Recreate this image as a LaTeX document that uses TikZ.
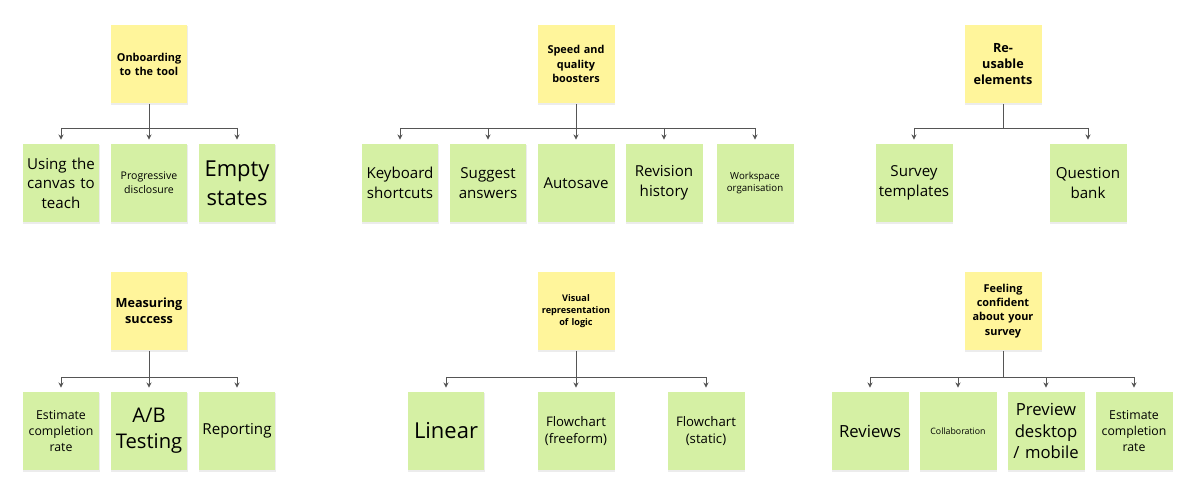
\documentclass[tikz,border=0pt]{standalone}
\usepackage{fontspec}
\setmainfont{Open Sans}
\usetikzlibrary{arrows.meta,shadows}
\definecolor{yel}{HTML}{FFF59B}
\definecolor{grn}{HTML}{D5F0A4}
\definecolor{ln}{HTML}{555555}
\newcommand{\fs}[1]{\fontsize{#1}{\dimexpr #1pt*13/10\relax}\selectfont\hyphenpenalty=10000 }
\tikzset{
 x=0.02cm,y=-0.02cm,
 note/.style={minimum width=1.54cm,minimum height=1.58cm,inner sep=1pt,text width=1.45cm,align=center,
   drop shadow={shadow xshift=0.3pt,shadow yshift=-1pt,opacity=0.15}},
 hd/.style={note,fill=yel,font=\bfseries\fs{6.2}},
 gn/.style={note,fill=grn},
 con/.style={draw=ln,line width=0.5pt},
 arr/.style={con,-{Stealth[length=3pt,width=3pt]}}
}
\begin{document}
\begin{tikzpicture}
\useasboundingbox (0,0) rectangle (1200,503);
\node[hd] (h1) at (149,64) {Onboarding\\to the tool};
\node[gn,font=\fs{8.6}] (a1) at (61,183) {Using the\\canvas to\\teach};
\node[gn,font=\fs{6}] (a2) at (149,183) {Progressive\\disclosure};
\node[gn,font=\fs{12.5}] (a3) at (237,183) {Empty\\states};
\node[hd] (h2) at (576,64) {Speed and\\quality\\boosters};
\node[gn,font=\fs{8.6}] (b1) at (400,183) {Keyboard\\shortcuts};
\node[gn,font=\fs{8.6}] (b2) at (488,183) {Suggest\\answers};
\node[gn,font=\fs{8.6}] (b3) at (576,183) {Autosave};
\node[gn,font=\fs{8.6}] (b4) at (664,183) {Revision\\history};
\node[gn,font=\fs{5.5}] (b5) at (755,183) {Workspace\\organisation};
\node[hd,font=\bfseries\fs{7.2}] (h3) at (1003,64) {Re-\\usable\\elements};
\node[gn,font=\fs{8.6}] (c1) at (914,183) {Survey\\templates};
\node[gn,font=\fs{8.6}] (c2) at (1088,183) {Question\\bank};
\node[hd,font=\bfseries\fs{7.2}] (h4) at (149,311) {Measuring\\success};
\node[gn,font=\fs{7}] (d1) at (61,431) {Estimate\\completion\\rate};
\node[gn,font=\fs{11.5}] (d2) at (149,431) {A/B\\Testing};
\node[gn,font=\fs{8.6}] (d3) at (237,431) {Reporting};
\node[hd,font=\bfseries\fs{5.2}] (h5) at (576,311) {Visual\\representation\\of logic};
\node[gn,font=\fs{12.5}] (e1) at (446,431) {Linear};
\node[gn,font=\fs{7.5}] (e2) at (576,431) {Flowchart\\(freeform)};
\node[gn,font=\fs{7.5}] (e3) at (706,431) {Flowchart\\(static)};
\node[hd] (h6) at (1003,311) {Feeling\\confident\\about your\\survey};
\node[gn,font=\fs{9.5}] (f1) at (870,431) {Reviews};
\node[gn,font=\fs{5}] (f2) at (958,431) {Collaboration};
\node[gn,font=\fs{9.5}] (f3) at (1046,431) {Preview\\desktop\\/ mobile};
\node[gn,font=\fs{7}] (f4) at (1134,431) {Estimate\\completion\\rate};
\foreach \h/\y/\l in {h1/128/{a1,a2,a3},h2/128/{b1,b2,b3,b4,b5},h3/128/{c1,c2},h4/377/{d1,d2,d3},h5/377/{e1,e2,e3},h6/377/{f1,f2,f3,f4}}{
  \draw[con] (\h.south) -- (\h.south |- 0,\y);
  \foreach \c in \l {
    \draw[con] (\h.south |- 0,\y) -- (\c.north |- 0,\y);
    \draw[arr] (\c.north |- 0,\y) -- ([yshift=2pt]\c.north);
  }
}
\end{tikzpicture}
\end{document}
